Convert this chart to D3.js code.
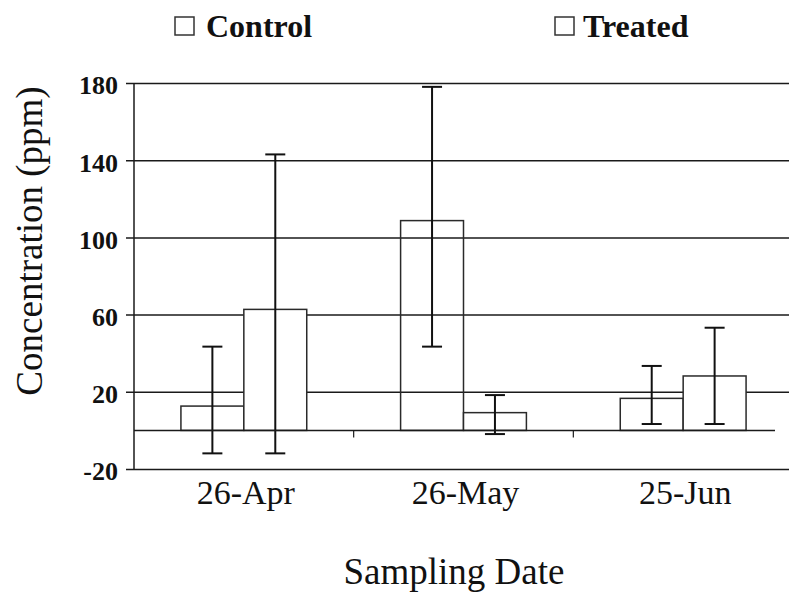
<!DOCTYPE html>
<html>
<head>
<meta charset="utf-8">
<script src="https://cdn.jsdelivr.net/npm/d3@7"></script>
<style>
  html, body { margin: 0; padding: 0; background: #fff; }
  svg { display: block; }
</style>
</head>
<body>
<svg id="chart" width="789" height="592"></svg>
<script>
// ---- data ----
const categories = ["26-Apr", "26-May", "25-Jun"];
const seriesNames = ["Control", "Treated"];
const controlValues = [12.6, 108.7, 16.6];
const controlLow = [-11.9, 43.4, 3.3];
const controlHigh = [43.4, 178, 33.4];
const treatedValues = [62.7, 9.2, 28.2];
const treatedLow = [-11.9, -1.9, 3.3];
const treatedHigh = [143, 18.3, 53.2];
const yTicks = [-20, 20, 60, 100, 140, 180];

const rows = categories.map((c, i) => ({
  cat: c,
  bars: [
    { series: "Control", value: controlValues[i], lo: controlLow[i], hi: controlHigh[i] },
    { series: "Treated", value: treatedValues[i], lo: treatedLow[i], hi: treatedHigh[i] }
  ]
}));

const svg = d3.select("#chart");
const plotLeft = 134, plotRight = 793, plotTop = 83, plotBottom = 469;
const serif = "'Liberation Serif', 'Times New Roman', serif";
const ink = "#1a1a1a";

const x = d3.scaleBand().domain(categories).range([plotLeft, plotRight]).paddingInner(0).paddingOuter(0);
const x1 = d3.scaleBand().domain(seriesNames).range([0, x.bandwidth()]).paddingInner(0).paddingOuter(0.746);
const y = d3.scaleLinear().domain([-20, 180]).range([plotBottom, plotTop]);

// gridlines + y labels
const yAxis = d3.axisLeft(y).tickValues(yTicks).tickFormat(d => String(d))
  .tickSize(-(789 - plotLeft)).tickSizeOuter(0).tickPadding(16);
const gy = svg.append("g").attr("transform", `translate(${plotLeft},0)`).call(yAxis);
gy.select(".domain").remove();
gy.selectAll(".tick line").attr("x1", -8).attr("stroke", ink).attr("stroke-width", 1.5);
gy.selectAll(".tick text")
  .attr("font-family", serif).attr("font-weight", "bold").attr("font-size", 26)
  .attr("fill", "#111").attr("dy", "0.42em");

// y axis line
svg.append("line").attr("x1", plotLeft).attr("x2", plotLeft).attr("y1", y(180)).attr("y2", y(-20))
  .attr("stroke", ink).attr("stroke-width", 1.5);

// bars
const groups = svg.selectAll(".grp").data(rows).enter().append("g")
  .attr("transform", d => `translate(${x(d.cat)},0)`);

groups.selectAll("rect").data(d => d.bars).enter().append("rect")
  .attr("x", d => x1(d.series))
  .attr("width", x1.bandwidth())
  .attr("y", d => y(Math.max(0, d.value)))
  .attr("height", d => Math.abs(y(d.value) - y(0)))
  .attr("fill", d => d.series === "Control" ? "none" : "#fff")
  .attr("stroke", "#2a2a2a").attr("stroke-width", 1.5);

// category axis at zero
svg.append("line").attr("x1", plotLeft).attr("x2", 775).attr("y1", y(0)).attr("y2", y(0))
  .attr("stroke", ink).attr("stroke-width", 1.5);
svg.selectAll(".ctick").data(categories.slice(1)).enter().append("line")
  .attr("x1", d => x(d)).attr("x2", d => x(d))
  .attr("y1", y(0)).attr("y2", y(0) + 7)
  .attr("stroke", ink).attr("stroke-width", 1.2);

// error bars
const eb = groups.selectAll(".eb").data(d => d.bars).enter().append("g")
  .attr("transform", d => `translate(${x1(d.series) + x1.bandwidth() / 2},0)`);
eb.append("line").attr("x1", 0).attr("x2", 0).attr("y1", d => y(d.hi)).attr("y2", d => y(d.lo))
  .attr("stroke", "#111").attr("stroke-width", 2);
eb.append("line").attr("x1", -10).attr("x2", 10).attr("y1", d => y(d.hi)).attr("y2", d => y(d.hi))
  .attr("stroke", "#111").attr("stroke-width", 2);
eb.append("line").attr("x1", -10).attr("x2", 10).attr("y1", d => y(d.lo)).attr("y2", d => y(d.lo))
  .attr("stroke", "#111").attr("stroke-width", 2);

// category labels
svg.selectAll(".clabel").data(categories).enter().append("text")
  .attr("x", d => x(d) + x.bandwidth() / 2 + 2)
  .attr("y", 504)
  .attr("text-anchor", "middle")
  .attr("font-family", serif).attr("font-size", 34).attr("fill", "#111")
  .text(d => d);

// axis titles
svg.append("text").attr("x", 454).attr("y", 584).attr("text-anchor", "middle")
  .attr("font-family", serif).attr("font-size", 37).attr("fill", "#111")
  .text("Sampling Date");
svg.append("text").attr("transform", "translate(42,241) rotate(-90)").attr("text-anchor", "middle")
  .attr("font-family", serif).attr("font-size", 37).attr("fill", "#111")
  .text("Concentration (ppm)");

// legend
const legendX = [175, 555];
const leg = svg.selectAll(".leg").data(seriesNames).enter().append("g")
  .attr("transform", (d, i) => `translate(${legendX[i]},0)`);
leg.append("rect").attr("x", 0).attr("y", 17).attr("width", 19).attr("height", 18)
  .attr("fill", "none").attr("stroke", "#333").attr("stroke-width", 1.5);
leg.append("text").attr("x", (d, i) => i === 0 ? 31 : 28).attr("y", 37)
  .attr("font-family", serif).attr("font-weight", "bold").attr("font-size", 32).attr("fill", "#111")
  .text(d => d);
</script>
</body>
</html>
